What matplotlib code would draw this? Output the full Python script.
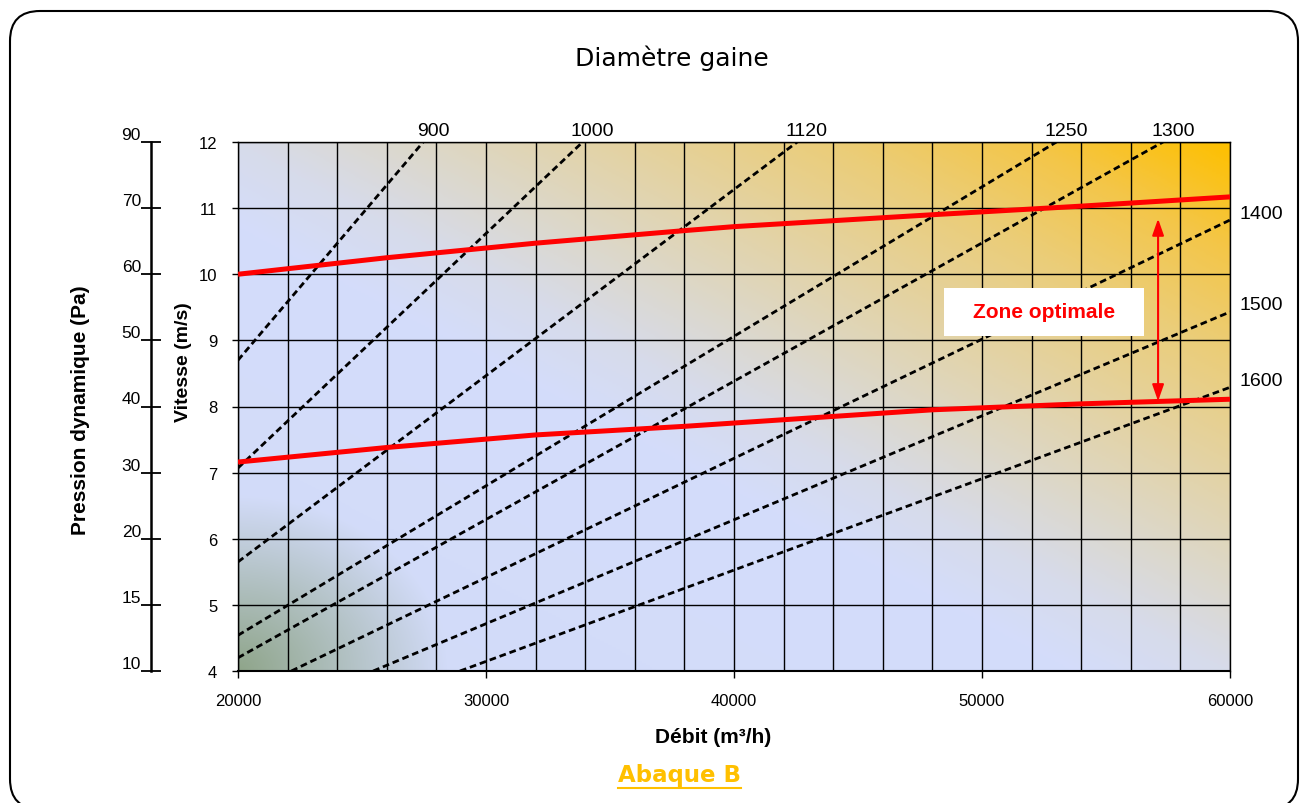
import numpy as np
import matplotlib
matplotlib.use("Agg")
import matplotlib.pyplot as plt
from matplotlib.colors import LinearSegmentedColormap, to_rgb
from matplotlib.patches import FancyBboxPatch, Rectangle

plt.rcParams['font.family'] = ['Liberation Sans', 'DejaVu Sans']

# Axes
debit_ticks = [20000, 30000, 40000, 50000, 60000]
vitesse_ticks = [4, 5, 6, 7, 8, 9, 10, 11, 12]
pression_labels = ["10", "15", "20", "30", "40", "50", "60", "70", "90"]

# Diameter lines (mm): start and end points (debit, vitesse)
diametres = ["900", "1000", "1120", "1250", "1300", "1400", "1500", "1600"]
q_debut = [20000, 20000, 20000, 20000, 20000, 22150, 25450, 28950]
v_debut = [8.70, 7.07, 5.65, 4.54, 4.20, 4.00, 4.00, 4.00]
q_fin = [27470, 33900, 42550, 53000, 57300, 60000, 60000, 60000]
v_fin = [12.0, 12.0, 12.0, 12.0, 12.0, 10.82, 9.43, 8.29]

# Red limits of the optimal zone
q_limites = [20000, 26000, 32000, 38000, 40000, 48000, 54000, 60000]
v_haute = [10.00, 10.25, 10.47, 10.66, 10.72, 10.90, 11.03, 11.17]
v_basse = [7.16, 7.38, 7.57, 7.70, 7.75, 7.95, 8.04, 8.11]

W, H = 1301, 804
fig = plt.figure(figsize=(W / 100, H / 100), dpi=100)

# background axes in pixel units (frame, underline)
bg = fig.add_axes([0, 0, 1, 1], zorder=-1)
bg.set_xlim(0, W)
bg.set_ylim(H, 0)
bg.axis('off')
bg.add_patch(FancyBboxPatch((10, 12), 1288, 798, boxstyle="round,pad=0,rounding_size=30",
                            fc='white', ec='black', lw=1.5, clip_on=False))

# main plot
ax = fig.add_axes([238 / W, 1 - 672 / H, 992 / W, 529 / H])
ax.set_xlim(20000, 60000)
ax.set_ylim(4, 12)

# gradient background
stops = [(0.0, '#d2dbf8'), (0.42, '#d4ddfb'), (0.5, '#d7dbea'), (0.58, '#dcd8cc'),
         (0.68, '#e3d3a6'), (0.8, '#ebcd78'), (0.9, '#f4c648'), (1.0, '#fec000')]
cmap = LinearSegmentedColormap.from_list('fond', stops)
nx, ny = 496, 265
u, w = np.meshgrid(np.linspace(0, 1, nx), np.linspace(0, 1, ny))
rgb = cmap((u + w) / 2)[..., :3]
r = np.sqrt((u * 992 / 210) ** 2 + (w * 529 / 175) ** 2)
g = np.clip(1 - r, 0, 1) ** 1.0
vert = np.array(to_rgb('#8fa58a'))
rgb = rgb * (1 - g[..., None]) + vert * g[..., None]
ax.imshow(rgb, extent=[20000, 60000, 4, 12], origin='lower', aspect='auto',
          zorder=0, interpolation='bilinear')

# grid
ax.set_xticks(debit_ticks)
ax.set_xticklabels([str(q) for q in debit_ticks])
ax.set_xticks(np.arange(20000, 60001, 2000), minor=True)
ax.set_yticks(vitesse_ticks)
ax.set_yticklabels([str(v) for v in vitesse_ticks])
ax.grid(which='both', color='black', lw=1.0)
ax.tick_params(axis='x', which='minor', length=0)
ax.tick_params(axis='x', which='major', length=5, width=1, pad=11, labelsize=12)
ax.tick_params(axis='y', length=4, width=1, pad=11, labelsize=12)
for s in ax.spines.values():
    s.set_linewidth(1.0)
ax.spines['bottom'].set_linewidth(1.5)

# diameter lines
for i, d in enumerate(diametres):
    ax.plot([q_debut[i], q_fin[i]], [v_debut[i], v_fin[i]], color='black', lw=2.0,
            dashes=(2.4, 1.4), zorder=3)
    if v_fin[i] >= 12:
        ax.annotate(d, xy=(q_fin[i], v_fin[i]), xytext=(7, 2), textcoords='offset points',
                    ha='center', va='bottom', fontsize=14, annotation_clip=False)
    else:
        ax.annotate(d, xy=(q_fin[i], v_fin[i]), xytext=(7, 5), textcoords='offset points',
                    ha='left', va='center', fontsize=14, annotation_clip=False)

# optimal zone
ax.plot(q_limites, v_haute, color='#ff0000', lw=3.6, zorder=4, solid_capstyle='butt')
ax.plot(q_limites, v_basse, color='#ff0000', lw=3.6, zorder=4, solid_capstyle='butt')
ax.annotate('', xy=(57100, 10.84), xytext=(57100, 8.08),
            arrowprops=dict(arrowstyle='<|-|>,head_length=1.0,head_width=0.35',
                            color='#ff0000', lw=1.5, shrinkA=0, shrinkB=0), zorder=5)
ax.add_patch(Rectangle((48470, 9.07), 8060, 0.72, fc='white', ec='none', zorder=5))
ax.text(52500, 9.43, 'Zone optimale', color='#ff0000', fontweight='bold', fontsize=15,
        ha='center', va='center', zorder=6)

# dynamic pressure axis
axp = fig.add_axes([151 / W, 1 - 672 / H, 0.0001, 529 / H])
axp.set_ylim(4, 12)
axp.patch.set_visible(False)
for k in ['top', 'right', 'bottom']:
    axp.spines[k].set_visible(False)
axp.spines['left'].set_linewidth(1.8)
axp.set_xticks([])
axp.set_yticks(vitesse_ticks)
axp.set_yticklabels(pression_labels, va='bottom')
axp.tick_params(axis='y', direction='inout', length=14.5, width=1.3, pad=0, labelsize=12.5)

# texts
fig.text(672 / W, 1 - 58 / H, 'Diamètre gaine', ha='center', va='center',
         fontsize=18, family='DejaVu Sans')
fig.text(80 / W, 1 - 410 / H, 'Pression dynamique (Pa)', rotation=90, ha='center',
         va='center', fontsize=15, fontweight='bold')
fig.text(183 / W, 1 - 362 / H, 'Vitesse (m/s)', rotation=90, ha='center',
         va='center', fontsize=14, fontweight='bold')
fig.text(713 / W, 1 - 738 / H, 'Débit (m³/h)', ha='center', va='center',
         fontsize=15, fontweight='bold')
abaque = fig.text(679 / W, 1 - 776 / H, 'Abaque B', ha='center', va='center',
                  color='#ffc000', fontsize=16.5, fontweight='bold', family='DejaVu Sans')

fig.canvas.draw()
bb = abaque.get_window_extent()
bg.plot([bb.x0, bb.x1], [H - bb.y0 + 1, H - bb.y0 + 1], color='#ffc000', lw=1.5)

fig.savefig('out.png', dpi=100)
